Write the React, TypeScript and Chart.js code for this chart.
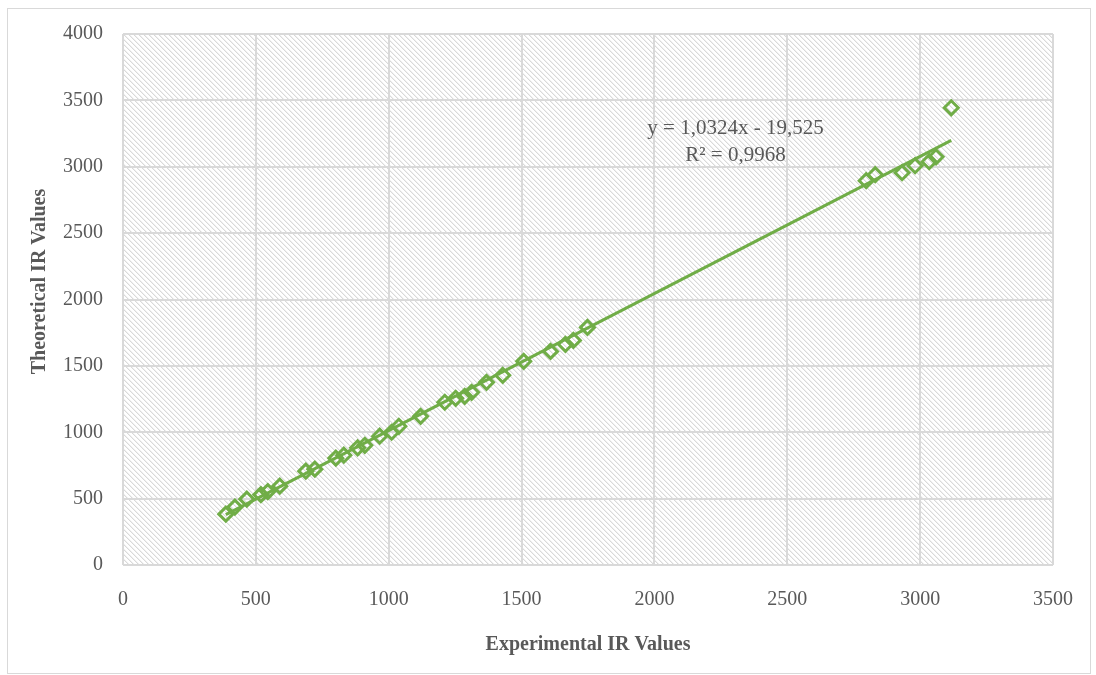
import React, { useEffect, useRef } from "react";
import { Chart, registerables } from "chart.js";

Chart.register(...registerables);

const expValues = [387, 421, 466, 519, 545, 590, 688, 722, 801, 831, 883, 910, 966, 1011, 1038, 1120, 1211, 1252, 1286, 1312, 1368, 1429, 1508, 1609, 1665, 1695, 1748, 2797, 2831, 2932, 2981, 3034, 3060, 3117];
const theoValues = [383, 436, 496, 530, 553, 594, 707, 722, 805, 827, 883, 902, 970, 1000, 1045, 1120, 1226, 1256, 1271, 1301, 1376, 1429, 1534, 1609, 1662, 1692, 1790, 2895, 2940, 2955, 3008, 3038, 3075, 3444];
const trendSlope = 1.0324;
const trendIntercept = -19.525;
const equationLines = ["y = 1,0324x - 19,525", "R² = 0,9968"];
const xTitle = "Experimental IR Values";
const yTitle = "Theoretical IR Values";

const GREEN = "#70AD47";
const TEXT = "#595959";
const FONT = "'Liberation Serif', 'Times New Roman', serif";

function makeHatch(): CanvasPattern | string {
  const c = document.createElement("canvas");
  const n = 5;
  c.width = n;
  c.height = n;
  const g = c.getContext("2d");
  if (!g) return "#f4f4f4";
  g.fillStyle = "#ffffff";
  g.fillRect(0, 0, n, n);
  for (let i = 0; i < n; i++) {
    g.fillStyle = "#d9d9d9";
    g.fillRect(i, i, 1, 1);
    g.fillStyle = "#f0f0f0";
    g.fillRect((i + 1) % n, i, 1, 1);
  }
  const p = g.createPattern(c, "repeat");
  return p || "#f4f4f4";
}

export default function App() {
  const ref = useRef<HTMLCanvasElement | null>(null);

  useEffect(() => {
    if (!ref.current) return;
    const hatch = makeHatch();
    const minX = Math.min(...expValues);
    const maxX = Math.max(...expValues);
    const points = expValues.map((x, i) => ({ x, y: theoValues[i] }));
    const trend = [minX, maxX].map((x) => ({ x, y: trendSlope * x + trendIntercept }));

    const bgPlugin = {
      id: "hatchBg",
      beforeDraw(chart: any) {
        const { ctx, chartArea } = chart;
        ctx.save();
        ctx.fillStyle = hatch as any;
        ctx.fillRect(chartArea.left, chartArea.top, chartArea.right - chartArea.left, chartArea.bottom - chartArea.top);
        ctx.restore();
      },
    };

    const labelPlugin = {
      id: "eqLabel",
      afterDatasetsDraw(chart: any) {
        const { ctx, scales, chartArea } = chart;
        const cx = scales.x.getPixelForValue(2305);
        const y1 = scales.y.getPixelForValue(3290);
        const y2 = scales.y.getPixelForValue(3082);
        ctx.save();
        ctx.fillStyle = TEXT;
        ctx.font = `21px ${FONT}`;
        ctx.textAlign = "center";
        ctx.textBaseline = "middle";
        ctx.fillText(equationLines[0], cx, y1);
        ctx.fillText(equationLines[1], cx, y2);
        // y axis title
        ctx.font = `bold 20px ${FONT}`;
        ctx.translate(32, (chartArea.top + chartArea.bottom) / 2 - 18);
        ctx.rotate(-Math.PI / 2);
        ctx.fillText(yTitle, 0, 0);
        ctx.restore();
      },
    };

    const chart = new Chart(ref.current, {
      type: "scatter",
      data: {
        datasets: [
          {
            label: "data",
            data: points,
            pointStyle: "rectRot",
            pointRadius: 7,
            pointHoverRadius: 7,
            pointBorderWidth: 3,
            borderColor: GREEN,
            backgroundColor: "rgba(0,0,0,0)",
            order: 2,
          },
          {
            type: "line",
            label: "trend",
            data: trend,
            borderColor: GREEN,
            borderWidth: 3,
            pointRadius: 0,
            fill: false,
            order: 1,
          } as any,
        ],
      },
      options: {
        animation: false,
        responsive: false,
        maintainAspectRatio: false,
        layout: { padding: { top: 25, right: 37, left: 0, bottom: 0 } },
        plugins: {
          legend: { display: false },
          tooltip: { enabled: false },
        },
        scales: {
          x: {
            type: "linear",
            min: 0,
            max: 3500,
            ticks: {
              stepSize: 500,
              color: TEXT,
              font: { family: FONT, size: 20 },
              padding: 23,
              maxRotation: 0,
              callback: (v: any) => String(v),
            },
            grid: { color: "#d9d9d9", lineWidth: 2, drawTicks: false },
            border: { display: false },
            title: {
              display: true,
              text: xTitle,
              color: TEXT,
              font: { family: FONT, size: 20, weight: "bold" },
              padding: { top: 0, bottom: 16 },
            },
            afterFit(scale: any) {
              scale.height = 108;
              scale.paddingLeft = 0;
              scale.paddingRight = 0;
            },
          },
          y: {
            type: "linear",
            min: 0,
            max: 4000,
            ticks: {
              stepSize: 500,
              color: TEXT,
              font: { family: FONT, size: 20 },
              padding: 20,
              callback: (v: any) => String(v),
            },
            grid: { color: "#d9d9d9", lineWidth: 2, drawTicks: false },
            border: { display: false },
            title: { display: false },
            afterFit(scale: any) {
              scale.width = 115;
              scale.paddingTop = 0;
              scale.paddingBottom = 0;
            },
          },
        },
      },
      plugins: [bgPlugin, labelPlugin],
    });
    return () => chart.destroy();
  }, []);

  return (
    <div
      style={{
        position: "fixed",
        left: 7,
        top: 8,
        width: 1084,
        height: 666,
        border: "1px solid #d9d9d9",
        boxSizing: "border-box",
        background: "#fff",
      }}
    >
      <canvas ref={ref} width={1082} height={664} style={{ display: "block", width: 1082, height: 664 }} />
    </div>
  );
}
